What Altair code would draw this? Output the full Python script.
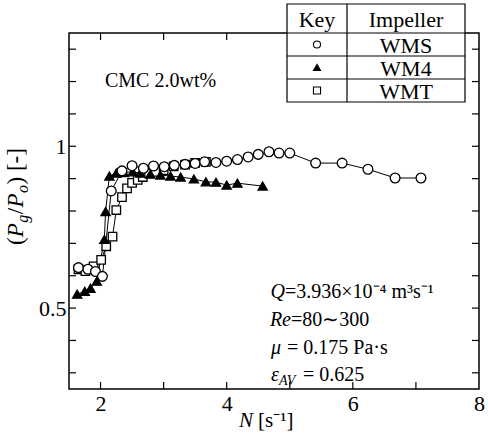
import altair as alt
import pandas as pd

# ---------------- data ----------------
wms_n = [1.65, 1.80, 1.92, 2.03, 2.17, 2.34, 2.50, 2.68, 2.84, 3.01, 3.17, 3.34, 3.50, 3.65,
         3.83, 4.00, 4.17, 4.34, 4.50, 4.67, 4.83, 5.00, 5.41, 5.83, 6.24, 6.67, 7.08]
wms_v = [0.625, 0.620, 0.613, 0.598, 0.862, 0.924, 0.940, 0.932, 0.939, 0.937, 0.941, 0.944, 0.947, 0.952,
         0.950, 0.954, 0.959, 0.967, 0.975, 0.983, 0.979, 0.979, 0.948, 0.948, 0.929, 0.902, 0.902]

wm4_n = [1.63, 1.75, 1.84, 1.94, 2.06, 2.08, 2.14, 2.25, 2.37, 2.51, 2.63, 2.79, 2.95, 3.11,
         3.27, 3.48, 3.67, 3.83, 4.00, 4.17, 4.57]
wm4_v = [0.543, 0.552, 0.561, 0.583, 0.712, 0.798, 0.908, 0.917, 0.919, 0.921, 0.917, 0.914, 0.911, 0.908,
         0.905, 0.899, 0.890, 0.889, 0.880, 0.886, 0.877]

wmt_n = [1.65, 1.76, 1.89, 2.01, 2.09, 2.19, 2.25, 2.34, 2.42, 2.50, 2.59, 2.67, 2.77, 2.87,
         3.00, 3.16, 3.34, 3.50, 3.67]
wmt_v = [0.620, 0.614, 0.629, 0.649, 0.691, 0.721, 0.803, 0.843, 0.870, 0.887, 0.896, 0.905, 0.916, 0.921,
         0.926, 0.938, 0.943, 0.949, 0.952]

series_names = ["WMS", "WM4", "WMT"]
series_shapes = ["circle", "triangle-up", "square"]
series_fills = ["white", "black", "white"]

x_tick_labels = [2, 4, 6, 8]
x_ticks = [2, 3, 4, 5, 6, 7]
y_tick_labels = [0.5, 1.0]
y_ticks = [0.3, 0.4, 0.5, 0.6, 0.7, 0.8, 0.9, 1.0, 1.1, 1.2, 1.3]

# ---------------- layout ----------------
W, H = 410, 356
PAD = {"left": 69, "top": 33, "right": 9, "bottom": 48}
FONT = "Liberation Serif"
TL = 7  # tick length
NB = "\u00a0"

xscale = alt.Scale(domain=[1.5, 8], nice=False, zero=False)
yscale = alt.Scale(domain=[0.25, 1.35], nice=False, zero=False)
xaxis = alt.Axis(values=x_tick_labels, title=None, domain=False, ticks=False, tickSize=0, grid=False,
                 labelPadding=4, labelFlush=False, labelOverlap=False, labelFont=FONT,
                 labelFontSize=22, labelColor="black", format="d")
yaxis = alt.Axis(values=y_tick_labels, title=None, domain=False, ticks=False, tickSize=0, grid=False,
                 labelPadding=3, labelFlush=False, labelOverlap=False, labelFont=FONT,
                 labelFontSize=22, labelColor="black", format=".1~f")


def X(f):
    return alt.X(f, type="quantitative", scale=xscale, axis=xaxis)


def Y(f):
    return alt.Y(f, type="quantitative", scale=yscale, axis=yaxis)


one = pd.DataFrame({"a": [0]})

layers = []

# inward ticks on all four sides
xt = pd.DataFrame({"t": x_ticks})
yt = pd.DataFrame({"t": y_ticks})
layers.append(alt.Chart(xt).mark_rule(color="black", strokeWidth=1.2).encode(
    x=X("t"), y=alt.value(H), y2=alt.value(H - TL)))
layers.append(alt.Chart(xt).mark_rule(color="black", strokeWidth=1.2).encode(
    x=X("t"), y=alt.value(0), y2=alt.value(TL)))
layers.append(alt.Chart(yt).mark_rule(color="black", strokeWidth=1.2).encode(
    y=Y("t"), x=alt.value(0), x2=alt.value(TL)))
layers.append(alt.Chart(yt).mark_rule(color="black", strokeWidth=1.2).encode(
    y=Y("t"), x=alt.value(W), x2=alt.value(W - TL)))

# series
all_n = [wms_n, wm4_n, wmt_n]
all_v = [wms_v, wm4_v, wmt_v]
sizes = [95, 85, 72]
frames = []
for name, ns, vs in zip(series_names, all_n, all_v):
    frames.append(pd.DataFrame({"N": ns, "v": vs, "s": name, "i": range(len(ns))}))
df = pd.concat(frames, ignore_index=True)

layers.append(alt.Chart(df).mark_line(color="black", strokeWidth=1).encode(
    x=X("N"), y=Y("v"), detail="s:N", order="i:Q"))

for idx in [2, 1, 0]:
    sub = df[df.s == series_names[idx]]
    layers.append(alt.Chart(sub).mark_point(
        shape=series_shapes[idx], filled=True, fill=series_fills[idx], stroke="black",
        strokeWidth=1.3, size=sizes[idx], opacity=1).encode(x=X("N"), y=Y("v")))


# ---------------- text helper ----------------
def txt(s, x, y, size=20, italic=False, align="left", baseline="alphabetic", angle=0):
    kw = dict(align=align, baseline=baseline, font=FONT, fontSize=size,
              fontStyle="italic" if italic else "normal", color="black")
    if angle:
        kw["angle"] = angle
    return alt.Chart(one).mark_text(**kw).encode(x=alt.value(x), y=alt.value(y), text=alt.value(s))


FS = 20
# CMC label
layers.append(txt("CMC 2.0wt%", 36, 54, FS))
# operating conditions
layers.append(txt("Q", 216, 265, FS, True, align="right"))
layers.append(txt("=3.936×10⁻⁴" + NB + "m³s⁻¹", 216, 265, FS))
layers.append(txt("Re", 222, 293, FS, True, align="right"))
layers.append(txt("=80∼300", 222, 293, FS))
layers.append(txt("μ", 212, 321, FS, True, align="right"))
layers.append(txt("=" + NB + "0.175" + NB + "Pa·s", 218, 321, FS))
layers.append(txt("ε", 210, 348, FS, True, align="right"))
layers.append(txt("AV", 210, 352, 14, True))
layers.append(txt("=" + NB + "0.625", 234, 348, FS))

# x axis title
layers.append(txt("N", 184, 394, 21, True, align="right"))
layers.append(txt("[s⁻¹]", 189, 394, 21))

# y axis title (rotated pieces, reading bottom to top)
TS = 23
yx = -46
yy = 212
pieces = [("(", TS, False, 0, 7.7), ("P", TS, True, 0, 14.5), ("g", 16, True, 5, 8.5),
          ("/", TS, False, 0, 6.8), ("P", TS, True, 0, 14.5), ("o", 16, True, 5, 8.5),
          (")" + NB + "[-]", TS, False, 0, 0)]
pos = 0.0
for s, sz, it, sh, w in pieces:
    layers.append(txt(s, yx + sh, yy - pos, sz, it, angle=270))
    pos += w

# ---------------- key table ----------------
TX0, TX1, TXC = 218, 396, 278
TY0, TY1 = -29, 69
row_lines = [0, 23, 46]
row_mid = [11.5, 34.5, 57.5]
layers.append(alt.Chart(one).mark_rect(fill="white", stroke="black", strokeWidth=1.2).encode(
    x=alt.value(TX0), x2=alt.value(TX1), y=alt.value(TY0), y2=alt.value(TY1)))
layers.append(alt.Chart(one).mark_rule(color="black", strokeWidth=1.2).encode(
    x=alt.value(TXC), y=alt.value(TY0), y2=alt.value(TY1)))
for ry in row_lines:
    layers.append(alt.Chart(one).mark_rule(color="black", strokeWidth=1.2).encode(
        x=alt.value(TX0), x2=alt.value(TX1), y=alt.value(ry)))
kc = (TX0 + TXC) / 2
ic = (TXC + TX1) / 2
layers.append(txt("Key", kc, -13, 22, align="center", baseline="middle"))
layers.append(txt("Impeller", ic, -13, 22, align="center", baseline="middle"))
for name, shp, fil, ry in zip(series_names, series_shapes, series_fills, row_mid):
    layers.append(alt.Chart(one).mark_point(shape=shp, filled=True, fill=fil, stroke="black",
                                            strokeWidth=1.1, size=50, opacity=1).encode(
        x=alt.value(kc), y=alt.value(ry)))
    layers.append(txt(name, ic, ry + 1, 22, align="center", baseline="middle"))

chart = alt.layer(*layers).properties(
    width=W, height=H, padding=PAD, autosize=alt.AutoSizeParams(type="none"),
    background="white",
).configure_view(stroke="black", strokeWidth=1.5)

chart.save("out.html", embed_options={"renderer": "svg", "actions": False})
